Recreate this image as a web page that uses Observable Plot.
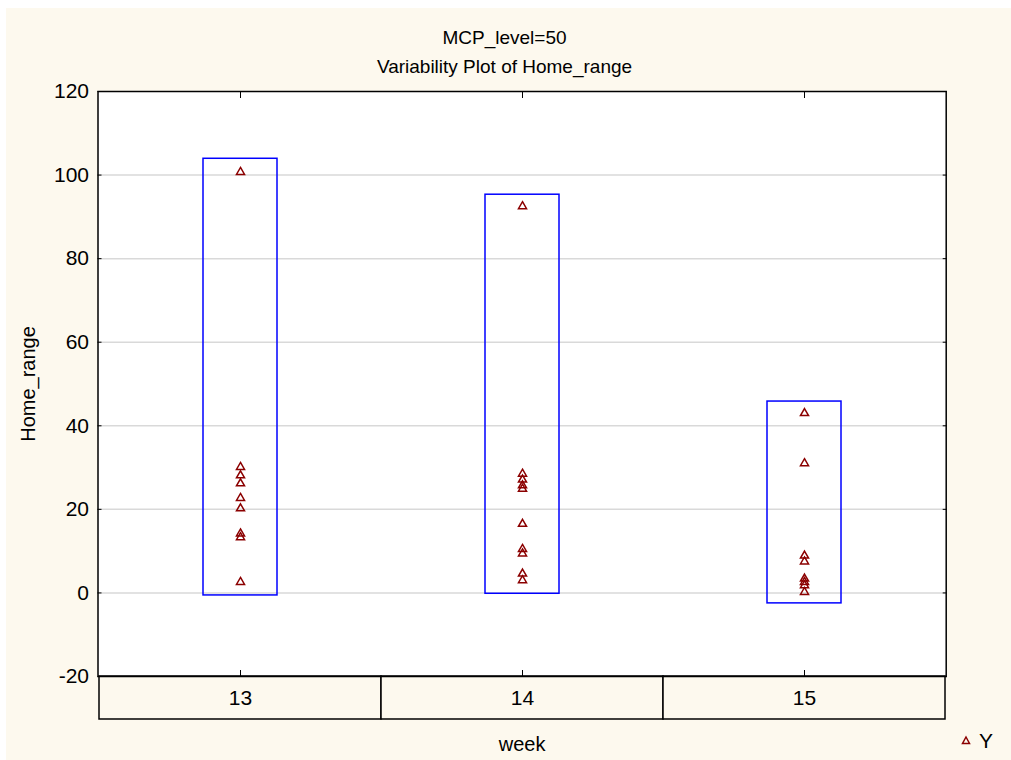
<!DOCTYPE html>
<html><head><meta charset="utf-8">
<script src="https://cdn.jsdelivr.net/npm/d3@7"></script>
<script src="https://cdn.jsdelivr.net/npm/@observablehq/plot@0.6"></script>
<style>
html,body{margin:0;padding:0;background:#fff;}
#page{position:absolute;left:6px;top:8px;width:1005px;height:752px;background:#fdf9ee;font-family:"Liberation Sans",Arial,sans-serif;color:#000;overflow:hidden;}
#title{position:absolute;left:0;top:0;width:1005px;padding-top:14.5px;box-sizing:border-box;text-align:center;font-size:19px;line-height:29px;padding-right:8px;z-index:2;}
#chart svg{display:block;}
#legend{position:absolute;left:953px;top:722px;font-size:21px;line-height:22px;display:flex;align-items:center;gap:6px;}
</style>
</head><body>
<div id="page">
  <div id="title"><div>MCP_level=50</div><div>Variability Plot of Home_range</div></div>
  <div id="chart"></div>
  <div id="legend"><svg width="14" height="14"><path d="M7,3L10.5,9.5L3.5,9.5Z" fill="none" stroke="#8b0000" stroke-width="1.5"/></svg><span>Y</span></div>
</div>
<script>
const weeks = ["13", "14", "15"];
const week13 = [100.7, 30.1, 28.1, 26.2, 22.7, 20.2, 14.2, 13.3, 2.6];
const week14 = [92.5, 28.5, 27.1, 25.7, 24.9, 16.5, 10.5, 9.4, 4.6, 3.0];
const week15 = [43.0, 31.0, 8.9, 7.5, 3.4, 2.6, 1.8, 0.2];
const boxLow = [-0.6, -0.2, -2.5];
const boxHigh = [103.9, 95.3, 45.8];
const yTicks = [-20, 0, 20, 40, 60, 80, 100, 120];
const gridTicks = [0, 20, 40, 60, 80, 100];

const STRIP_TOP = -20, STRIP_BOTTOM = -30.29;
const cream = "#fdf9ee";

const points = [
  ...week13.map(v => ({week: "13", value: v})),
  ...week14.map(v => ({week: "14", value: v})),
  ...week15.map(v => ({week: "15", value: v}))
];
const boxes = weeks.map((w, i) => ({week: w, lo: boxLow[i], hi: boxHigh[i]}));

const chart = Plot.plot({
  width: 1005,
  height: 752,
  marginTop: 83,
  marginLeft: 91.5,
  marginRight: 65.3,
  marginBottom: 84,
  style: {fontFamily: "Liberation Sans, Arial, sans-serif", fontSize: "21px", background: "transparent", color: "#000"},
  x: {type: "band", domain: weeks, padding: 0, label: null, axis: null},
  y: {domain: [-20, 120], label: null, axis: null},
  marks: [
    Plot.frame({fill: "white"}),
    Plot.gridY(gridTicks, {stroke: "#d9d9d9", strokeOpacity: 1, strokeWidth: 1.5}),
    Plot.barY(weeks, {x: d => d, y1: STRIP_TOP, y2: STRIP_BOTTOM, fill: cream, stroke: "black", strokeWidth: 1.5}),
    Plot.barY(boxes, {x: "week", y1: "lo", y2: "hi", fill: "none", stroke: "#0000ff", strokeWidth: 1.5, insetLeft: 104, insetRight: 104}),
    Plot.dot(points, {x: "week", y: "value", symbol: "triangle", r: 3, stroke: "#8b0000", strokeWidth: 1.5, fill: "none"}),
    Plot.frame({stroke: "black", strokeWidth: 1.5}),
    Plot.axisY(yTicks, {anchor: "left", tickSize: -4, tickPadding: 13, fontSize: 21, tickFormat: d => String(d), label: null}),
    Plot.axisY(yTicks, {anchor: "right", tickSize: -4, tickFormat: () => "", label: null}),
    Plot.axisX(weeks, {anchor: "top", tickSize: -6, tickFormat: () => "", label: null}),
    Plot.axisX(weeks, {anchor: "bottom", tickSize: -6, tickFormat: () => "", label: null}),
    Plot.text(weeks, {x: d => d, frameAnchor: "bottom", dy: 22, lineAnchor: "middle", fontSize: 21}),
    Plot.text(["week"], {frameAnchor: "bottom", dy: 68, lineAnchor: "middle", textAnchor: "middle", fontSize: 20}),
    Plot.text(["Home_range"], {frameAnchor: "left", dx: -69.5, rotate: -90, textAnchor: "middle", lineAnchor: "middle", fontSize: 20})
  ]
});
document.getElementById("chart").appendChild(chart);
</script>
</body></html>
